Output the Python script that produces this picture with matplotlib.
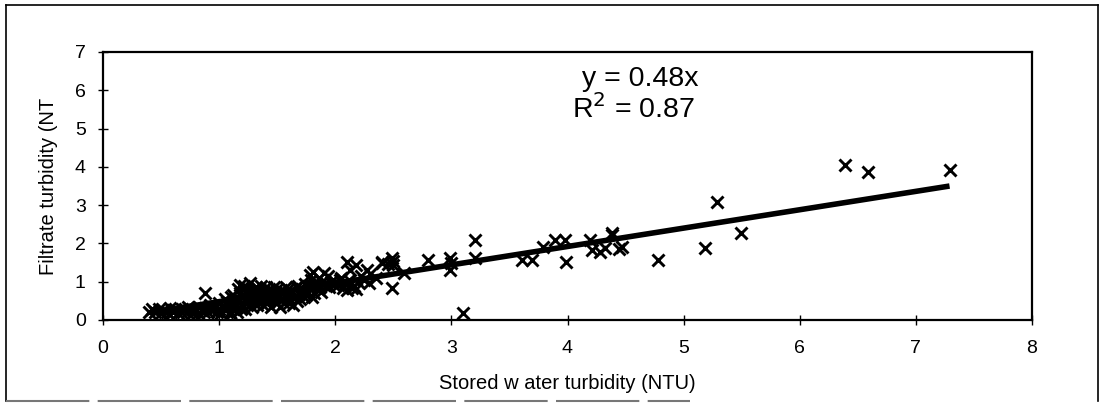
import matplotlib
matplotlib.use("Agg")
import matplotlib.pyplot as plt
from matplotlib.lines import Line2D

plt.rcParams['font.family'] = ['Liberation Sans', 'DejaVu Sans']

# Stored water turbidity (NTU) vs filtrate turbidity
stored_ntu = [
    0.40, 0.45, 0.50, 0.52, 0.55, 0.60, 0.62, 0.65, 0.70, 0.72, 0.75, 0.78,
    0.80, 0.82, 0.85, 0.88, 0.88, 0.90, 0.92, 0.95, 0.98, 1.00, 1.00, 1.02,
    0.42, 0.48, 0.58, 0.68, 0.73, 0.83, 0.93, 0.97, 0.57, 0.67, 0.77, 0.87,
    1.05, 1.05, 1.08, 1.10, 1.10, 1.12, 1.15, 1.15, 1.18, 1.18, 1.20, 1.20,
    1.22, 1.25, 1.25, 1.27, 1.28, 1.30, 1.30, 1.32, 1.35, 1.35, 1.38, 1.40,
    1.40, 1.42, 1.45, 1.45, 1.48, 1.50, 1.50,
    1.03, 1.07, 1.12, 1.13, 1.17, 1.19, 1.23, 1.24, 1.26, 1.29, 1.31, 1.33,
    1.34, 1.36, 1.37, 1.39, 1.41, 1.43, 1.44, 1.46, 1.47, 1.49, 1.51, 1.53,
    1.56, 1.57, 1.59, 1.61, 1.63, 1.66, 1.67, 1.69, 1.71, 1.73, 1.74, 1.76,
    1.77, 1.79, 1.82, 1.84, 1.86, 1.87, 1.89, 1.92, 1.94, 1.96, 1.99, 1.14,
    1.09, 1.16, 1.21, 1.06,
    1.52, 1.55, 1.55, 1.58, 1.60, 1.62, 1.64, 1.65, 1.68, 1.70, 1.72, 1.75,
    1.78, 1.80, 1.80, 1.81, 1.85, 1.88, 1.90, 1.90, 1.95, 1.98,
    2.02, 2.05, 2.08, 2.12, 2.16, 2.20, 2.22, 2.25, 2.30, 2.35,
    2.00, 2.04, 2.07, 2.10, 2.10, 2.13, 2.14, 2.18, 2.18, 2.27, 2.29, 2.40,
    2.40, 2.45, 2.49, 2.49, 2.50, 2.50, 2.59, 2.80, 2.99, 2.99, 3.00, 3.10,
    3.20, 3.20, 3.61, 3.69, 3.79, 3.89, 3.98, 3.99, 4.19, 4.21, 4.28, 4.32,
    4.38, 4.38, 4.44, 4.47, 4.78, 5.18, 5.29, 5.49, 6.39, 6.59, 7.29,
]
filtrate_ntu = [
    0.20, 0.22, 0.18, 0.25, 0.20, 0.22, 0.28, 0.18, 0.25, 0.20, 0.30, 0.22,
    0.28, 0.18, 0.25, 0.32, 0.70, 0.20, 0.38, 0.28, 0.22, 0.45, 0.30, 0.18,
    0.28, 0.30, 0.32, 0.30, 0.35, 0.35, 0.25, 0.35, 0.15, 0.22, 0.18, 0.20,
    0.55, 0.25, 0.40, 0.15, 0.60, 0.30, 0.50, 0.20, 0.70, 0.91, 0.40, 0.60,
    0.30, 0.80, 0.50, 0.96, 0.35, 0.65, 0.45, 0.85, 0.55, 0.75, 0.40, 0.65,
    0.85, 0.50, 0.75, 0.35, 0.60, 0.80, 0.45,
    0.35, 0.48, 0.65, 0.42, 0.55, 0.28, 0.72, 0.45, 0.62, 0.78, 0.55, 0.38,
    0.68, 0.88, 0.60, 0.72, 0.45, 0.80, 0.62, 0.52, 0.85, 0.70, 0.58, 0.78,
    0.45, 0.65, 0.80, 0.55, 0.70, 0.85, 0.50, 0.68, 0.82, 0.60, 0.95, 0.75,
    0.88, 1.05, 0.70, 0.95, 1.10, 0.85, 1.00, 0.90, 1.15, 0.98, 0.92, 0.35,
    0.22, 0.80, 0.88, 0.30,
    0.35, 0.70, 0.55, 0.85, 0.45, 0.75, 0.39, 0.60, 0.90, 0.55, 0.75, 0.65,
    1.17, 0.61, 0.90, 1.26, 0.80, 0.74, 1.22, 0.95, 0.85, 1.05,
    0.92, 1.10, 0.95, 1.05, 0.90, 1.00, 1.15, 1.05, 1.20, 1.10,
    1.00, 1.04, 0.83, 1.52, 0.78, 1.31, 0.83, 1.44, 0.80, 1.31, 0.96, 1.52,
    1.49, 1.45, 1.61, 0.83, 1.44, 1.55, 1.22, 1.57, 1.61, 1.31, 1.50, 0.17,
    2.09, 1.61, 1.58, 1.58, 1.91, 2.10, 2.10, 1.52, 2.10, 1.83, 1.78, 1.87,
    2.22, 2.26, 1.85, 1.90, 1.58, 1.89, 3.09, 2.26, 4.05, 3.86, 3.93,
]

slope = 0.48
r_squared = 0.87
fit_x = [min(stored_ntu), max(stored_ntu)]
fit_y = [slope * v for v in fit_x]

W, H = 1109, 416
fig = plt.figure(figsize=(W / 100, H / 100), dpi=100)
fig.patch.set_facecolor('white')

ax = fig.add_axes([103 / W, 1 - 320 / H, (1032 - 103) / W, (320 - 52) / H])
ax.plot(fit_x, fit_y, color='black', lw=4.0, solid_capstyle='butt', zorder=2)
ax.plot(stored_ntu, filtrate_ntu, linestyle='none', marker='x', ms=8.2,
        mew=2.1, color='black', zorder=3)

ax.set_xlim(0, 8)
ax.set_ylim(0, 7)
ax.set_xticks(range(0, 9))
ax.set_yticks(range(0, 8))
for s in ax.spines.values():
    s.set_linewidth(1.6)
ax.tick_params(direction='inout', length=7, width=1.0, labelsize=14)
ax.tick_params(axis='x', pad=11)
ax.tick_params(axis='y', pad=9)

ax.set_xlabel('Stored w ater turbidity (NTU)', fontsize=14.5, labelpad=12)
ax.set_ylabel('Filtrate turbidity (NT', fontsize=14.5, labelpad=12)

ax.text(4.63, 6.30, 'y = 0.48x', fontsize=20.5, ha='center', va='center')
ax.text(4.57, 5.50, 'R$^2$ = 0.87', fontsize=20.5, ha='center', va='center')

# outer chart-area border
fig.add_artist(Line2D([6 / W, 6 / W], [1 - 401 / H, 1 - 5 / H],
                      color='black', lw=1.2, transform=fig.transFigure))
fig.add_artist(Line2D([6 / W, 1098 / W], [1 - 5 / H, 1 - 5 / H],
                      color='black', lw=1.2, transform=fig.transFigure))
fig.add_artist(Line2D([1098 / W, 1098 / W], [1 - 401 / H, 1 - 5 / H],
                      color='black', lw=1.2, transform=fig.transFigure))
fig.add_artist(Line2D([6 / W, 690 / W], [1 - 401 / H, 1 - 401 / H],
                      color='#777777', lw=1.5, linestyle=(0, (40, 4)),
                      transform=fig.transFigure))

fig.savefig('out.png', dpi=100, facecolor='white')
